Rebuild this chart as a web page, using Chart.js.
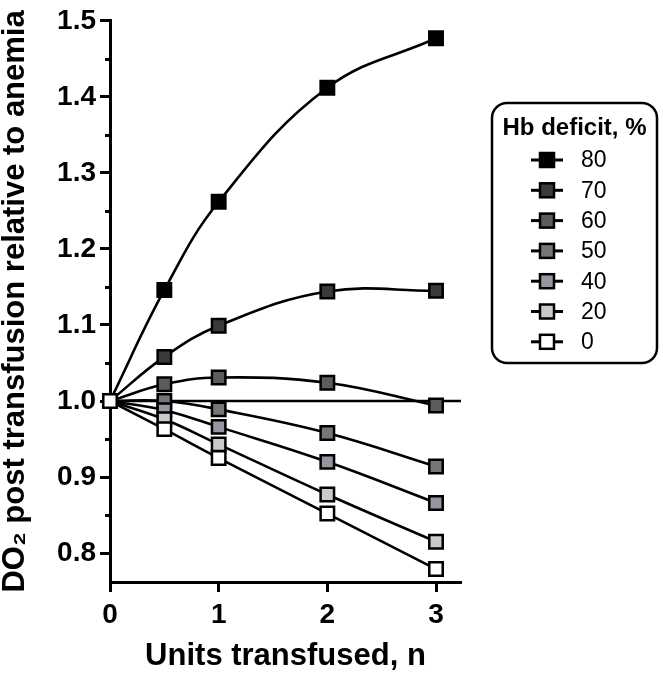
<!DOCTYPE html>
<html>
<head>
<meta charset="utf-8">
<script src="https://cdn.jsdelivr.net/npm/chart.js@4/dist/chart.umd.min.js"></script>
<style>
  html, body { margin: 0; padding: 0; background: #ffffff; }
  #wrap { width: 663px; height: 678px; position: relative; }
</style>
</head>
<body>
<div id="wrap"><canvas id="c"></canvas></div>
<script>
// ---- data ----
const UNITS = [0, 0.5, 1, 2, 3];
const DEFICIT_LABELS = ['80', '70', '60', '50', '40', '20', '0'];
const DO2_80 = [1.000, 1.146, 1.262, 1.412, 1.477];
const DO2_70 = [1.000, 1.058, 1.099, 1.144, 1.145];
const DO2_60 = [1.000, 1.022, 1.031, 1.024, 0.994];
const DO2_50 = [1.000, 1.000, 0.989, 0.958, 0.914];
const DO2_40 = [1.000, 0.988, 0.966, 0.920, 0.866];
const DO2_20 = [1.000, 0.976, 0.943, 0.877, 0.815];
const DO2_0  = [1.000, 0.963, 0.925, 0.852, 0.779];
const REF_X = [0, 3.23];
const REF_Y = [1.0, 1.0];
const X_TICKS = [0, 1, 2, 3];
const Y_TICKS = [0.8, 0.9, 1.0, 1.1, 1.2, 1.3, 1.4, 1.5];
const Y_MINOR_TICKS = [0.85, 0.95, 1.05, 1.15, 1.25, 1.35, 1.45];
const LEGEND_TITLE = 'Hb deficit, %';

const FILLS = {
  '80': '#000000', '70': '#3a3a3a', '60': '#5c5c5c', '50': '#767676',
  '40': '#9597a0', '20': '#c8cacc', '0': '#ffffff'
};
const SERIES = { '80': DO2_80, '70': DO2_70, '60': DO2_60, '50': DO2_50, '40': DO2_40, '20': DO2_20, '0': DO2_0 };

const FONT = "'Liberation Sans', Arial, Helvetica, sans-serif";

function pts(xs, ys) { return xs.map((x, i) => ({ x: x, y: ys[i] })); }

// draw order: dataset index 0 is on top -> put "0" first
const order = DEFICIT_LABELS.slice().reverse();
const datasets = order.map(lbl => ({
  label: lbl,
  data: pts(UNITS, SERIES[lbl]),
  borderColor: '#000000',
  borderWidth: 2.6,
  backgroundColor: FILLS[lbl],
  pointBackgroundColor: FILLS[lbl],
  pointBorderColor: '#000000',
  pointBorderWidth: 2.5,
  pointStyle: 'rect',
  pointRadius: 9.5,
  pointHoverRadius: 9.5,
  tension: 0.4,
  fill: false,
  clip: false
}));
datasets.push({
  label: 'ref',
  data: pts(REF_X, REF_Y),
  borderColor: '#000000',
  borderWidth: 2.6,
  pointRadius: 0,
  tension: 0,
  fill: false,
  clip: false
});

const minorTicks = {
  id: 'minorTicks',
  afterDatasetsDraw(chart) {
    const ctx = chart.ctx;
    const ys = chart.scales.y;
    const left = chart.chartArea.left;
    ctx.save();
    ctx.strokeStyle = '#000';
    ctx.lineWidth = 3;
    Y_MINOR_TICKS.forEach(v => {
      const py = Math.round(ys.getPixelForValue(v)) + 0.5;
      ctx.beginPath();
      ctx.moveTo(left - 5, py);
      ctx.lineTo(left, py);
      ctx.stroke();
    });
    ctx.restore();
  }
};

const boxLegend = {
  id: 'boxLegend',
  afterDraw(chart) {
    const ctx = chart.ctx;
    const bx = 492, by = 103, bw = 165, bh = 260, r = 15;
    ctx.save();
    ctx.lineWidth = 2.5;
    ctx.strokeStyle = '#000';
    ctx.beginPath();
    ctx.roundRect(bx, by, bw, bh, r);
    ctx.stroke();
    ctx.fillStyle = '#000';
    ctx.font = 'bold 24px ' + FONT;
    ctx.textAlign = 'center';
    ctx.textBaseline = 'middle';
    ctx.fillText(LEGEND_TITLE, bx + bw / 2, 128);
    ctx.font = '23px ' + FONT;
    ctx.textAlign = 'left';
    DEFICIT_LABELS.forEach((lbl, i) => {
      const y = 160 + i * 30.3;
      ctx.lineWidth = 3;
      ctx.beginPath();
      ctx.moveTo(531, y);
      ctx.lineTo(563, y);
      ctx.stroke();
      ctx.lineWidth = 2.5;
      ctx.fillStyle = FILLS[lbl];
      ctx.fillRect(540, y - 7, 14, 14);
      ctx.strokeRect(540, y - 7, 14, 14);
      ctx.fillStyle = '#000';
      ctx.fillText(lbl, 581, y + 1);
    });
    ctx.restore();
  }
};

new Chart(document.getElementById('c'), {
  type: 'line',
  data: { datasets: datasets },
  plugins: [minorTicks, boxLegend],
  options: {
    responsive: true,
    maintainAspectRatio: false,
    animation: false,
    layout: { padding: { top: 18, right: 202, left: 0, bottom: 0 } },
    plugins: { legend: { display: false }, tooltip: { enabled: false } },
    scales: {
      x: {
        type: 'linear',
        min: 0,
        max: 3.23,
        afterBuildTicks(scale) { scale.ticks = X_TICKS.map(v => ({ value: v })); },
        afterFit(scale) { scale.height = 96; },
        ticks: {
          color: '#000',
          font: { family: FONT, size: 28, weight: 'bold' },
          padding: 6,
          maxRotation: 0,
          callback: v => String(v)
        },
        grid: { drawOnChartArea: false, drawTicks: true, tickLength: 10, tickWidth: 3, tickColor: '#000' },
        border: { display: true, color: '#000', width: 3 },
        title: {
          display: true,
          text: 'Units transfused, n',
          color: '#000',
          font: { family: FONT, size: 31, weight: 'bold', lineHeight: 1 },
          padding: { top: 0, bottom: 6 }
        }
      },
      y: {
        type: 'linear',
        min: 0.762,
        max: 1.5,
        afterBuildTicks(scale) { scale.ticks = Y_TICKS.map(v => ({ value: v })); },
        afterFit(scale) { scale.width = 110; },
        ticks: {
          color: '#000',
          font: { family: FONT, size: 28, weight: 'bold' },
          padding: 4,
          callback: v => Number(v).toFixed(1)
        },
        grid: { drawOnChartArea: false, drawTicks: true, tickLength: 10, tickWidth: 3, tickColor: '#000' },
        border: { display: true, color: '#000', width: 3 },
        title: {
          display: true,
          text: 'DO\u2082 post transfusion relative to anemia',
          color: '#000',
          font: { family: FONT, size: 31, weight: 'bold', lineHeight: 1 },
          padding: { top: 0, bottom: 0 }
        }
      }
    }
  }
});
</script>
</body>
</html>
